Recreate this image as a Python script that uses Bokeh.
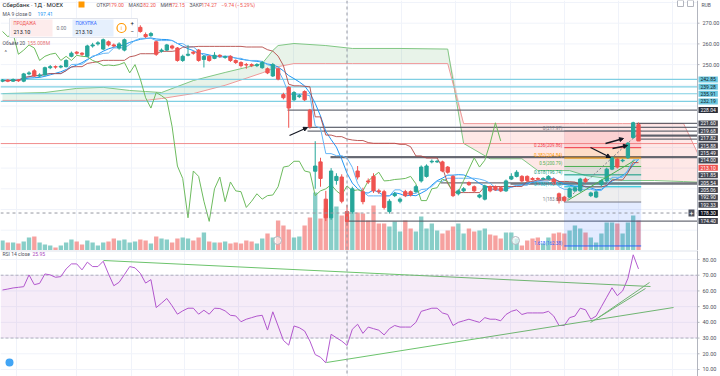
import numpy as np
import pandas as pd
from bokeh.plotting import figure
from bokeh.models import (Range1d, Label, Span, BoxAnnotation, Arrow, NormalHead)
from bokeh.layouts import column
from bokeh.embed import file_html
from bokeh.resources import INLINE

# ---------------- data ----------------
opens = [242.0, 242.5, 242.0, 242.6, 242.0, 245.5, 247.0, 244.5, 245.0, 248.5,
         249.0, 248.8, 249.0, 254.0, 256.0, 255.5, 254.0, 259.0, 260.0, 257.5,
         261.0, 259.5, 258.0, 257.0, 264.5, 264.5, 268.0, 264.5, 264.0, 261.0,
         256.5, 257.0, 259.0, 258.0, 252.0, 254.5, 256.0, 257.0, 252.5, 254.0,
         253.0, 254.5, 253.5, 254.0, 252.0, 251.0, 250.0, 250.0, 249.5, 248.5,
         248.0, 244.5, 248.0, 235.5, 239.0, 233.0, 234.5, 237.0, 228.0, 198.5,
         203.0, 185.0, 176.0, 194.0, 195.7, 179.0, 179.0, 198.6, 188.6, 193.8,
         196.0, 189.0, 188.6, 179.0, 186.7, 184.0, 188.6, 188.6, 188.6, 193.8,
         196.0, 203.0, 203.0, 203.0, 200.5, 196.0, 187.6, 189.0, 193.0, 191.0,
         186.0, 185.0, 191.0, 191.0, 190.5, 189.0, 194.7, 196.0, 196.0, 196.0,
         195.0, 195.0, 194.7, 194.7, 194.7, 187.6, 186.0, 186.0, 189.0, 189.0,
         194.7, 186.7, 186.0, 192.0, 193.8, 199.5, 204.3, 203.5, 205.0, 214.8,
         221.0]
closes = [242.5, 242.0, 242.8, 242.2, 245.5, 246.0, 244.5, 245.0, 248.5, 249.0,
          248.8, 249.2, 252.0, 255.5, 255.5, 255.0, 259.0, 259.5, 260.5, 262.0,
          259.5, 259.0, 260.0, 262.0, 265.0, 266.0, 266.0, 263.5, 265.0, 255.0,
          257.0, 259.5, 258.0, 252.0, 254.0, 255.0, 255.5, 252.0, 254.0, 252.0,
          254.5, 254.0, 253.8, 252.0, 251.0, 249.5, 249.8, 249.5, 250.0, 251.0,
          246.0, 250.0, 243.0, 234.0, 229.0, 236.5, 235.0, 233.0, 220.0, 201.0,
          195.0, 176.0, 198.6, 196.0, 184.0, 174.27, 190.0, 195.7, 183.8, 193.3,
          189.0, 188.6, 181.0, 184.0, 187.6, 185.0, 186.7, 187.0, 191.0, 200.5,
          201.0, 203.3, 203.3, 198.6, 198.0, 186.7, 189.0, 190.0, 192.0, 189.0,
          187.0, 191.4, 189.0, 189.5, 189.0, 193.8, 196.0, 198.0, 193.8, 194.0,
          194.5, 194.7, 195.0, 196.0, 192.4, 184.3, 184.3, 190.0, 190.5, 194.7,
          193.5, 188.0, 188.5, 194.0, 199.5, 205.0, 200.5, 203.8, 212.0, 221.9,
          213.10]
highs = [243.0, 243.0, 243.3, 243.0, 246.0, 246.8, 247.8, 245.8, 249.0, 249.8,
         249.6, 249.8, 252.6, 256.3, 256.5, 256.0, 259.6, 260.5, 261.3, 262.6,
         261.6, 260.2, 260.8, 262.6, 266.0, 267.0, 269.0, 265.5, 265.8, 261.6,
         257.8, 260.0, 259.6, 258.5, 254.8, 259.5, 256.6, 257.5, 254.6, 254.6,
         256.0, 255.0, 254.4, 254.5, 252.5, 251.6, 250.8, 250.6, 250.7, 251.8,
         248.6, 250.8, 248.5, 236.4, 239.6, 237.2, 235.8, 237.6, 228.6, 213.0,
         205.0, 189.0, 200.0, 197.5, 197.0, 182.2, 191.0, 201.0, 190.5, 195.0,
         197.5, 190.0, 189.5, 185.0, 188.5, 185.8, 189.5, 189.2, 191.8, 201.3,
         201.8, 204.2, 204.0, 203.6, 201.0, 196.6, 189.8, 190.8, 193.6, 191.6,
         187.6, 192.0, 191.6, 191.6, 191.0, 194.5, 197.5, 199.0, 196.6, 196.5,
         195.6, 195.5, 195.6, 196.6, 195.3, 188.2, 186.6, 190.6, 191.2, 195.3,
         195.4, 188.6, 189.2, 194.6, 200.2, 205.6, 205.0, 204.5, 212.6, 222.4,
         222.0]
lows = [241.5, 241.5, 241.6, 241.6, 241.5, 244.8, 244.0, 243.8, 244.6, 247.8,
        248.0, 248.2, 248.6, 253.5, 254.8, 254.2, 253.5, 258.2, 259.2, 257.0,
        258.8, 258.3, 257.2, 256.4, 263.8, 264.0, 265.4, 262.8, 263.4, 254.2,
        255.8, 256.5, 257.3, 251.4, 251.3, 254.0, 254.8, 251.4, 248.6, 251.4,
        252.6, 253.3, 252.8, 251.3, 250.3, 248.6, 248.0, 248.8, 248.8, 248.0,
        245.4, 244.0, 242.4, 233.2, 219.5, 232.4, 233.8, 232.4, 219.0, 190.0,
        191.0, 174.4, 175.0, 192.0, 183.0, 172.15, 178.0, 194.5, 182.5, 192.3,
        188.0, 187.5, 180.0, 178.0, 186.0, 183.0, 186.0, 186.3, 188.0, 193.0,
        195.4, 202.3, 202.5, 198.0, 197.3, 186.0, 186.8, 188.3, 191.4, 188.4,
        185.4, 184.4, 188.3, 189.0, 188.4, 188.5, 194.2, 195.5, 193.2, 193.4,
        194.0, 194.2, 194.2, 194.2, 191.8, 182.9, 183.6, 185.5, 188.4, 188.5,
        192.8, 186.0, 185.5, 191.3, 193.2, 199.0, 199.8, 202.8, 204.4, 214.2,
        213.1]
volumes_m = [80, 64, 64, 56, 72, 104, 112, 64, 48, 40,
             24, 40, 64, 88, 72, 48, 80, 64, 40, 64,
             72, 96, 80, 88, 64, 72, 88, 80, 56, 112,
             96, 88, 64, 96, 104, 96, 80, 104, 144, 72,
             64, 64, 72, 56, 64, 56, 80, 72, 56, 96,
             136, 104, 240, 200, 168, 104, 112, 200, 264, 464,
             256, 336, 336, 352, 280, 272, 320, 304, 296, 240,
             360, 216, 216, 192, 232, 152, 240, 176, 152, 272,
             176, 216, 160, 136, 160, 192, 216, 136, 176, 152,
             160, 176, 128, 120, 96, 144, 144, 96, 40, 80,
             96, 104, 56, 104, 136, 144, 136, 160, 200, 176,
             144, 104, 64, 136, 224, 224, 216, 136, 224, 280,
             240]
rsi14 = [60.6, 61.2, 61.9, 62.3, 62.7, 70.2, 64.0, 64.8, 70.8, 70.2,
         68.7, 69.1, 74.0, 77.2, 77.2, 73.4, 78.3, 75.5, 75.5, 78.9,
         70.8, 63.3, 65.5, 70.4, 75.5, 74.7, 71.2, 65.0, 67.2, 49.4,
         52.2, 55.2, 50.5, 45.2, 47.3, 49.0, 49.0, 45.2, 47.7, 45.2,
         49.0, 48.8, 47.3, 44.5, 44.1, 40.4, 42.0, 43.0, 44.0, 44.5,
         35.1, 46.7, 37.7, 28.5, 25.5, 37.7, 36.6, 34.5, 28.1, 19.5,
         17.8, 14.2, 32.4, 30.2, 28.1, 25.3, 35.6, 38.8, 33.0, 37.0,
         36.0, 35.0, 32.0, 36.0, 38.0, 37.0, 37.0, 37.0, 40.0, 47.0,
         48.0, 49.0, 49.0, 46.0, 45.0, 38.0, 40.0, 41.0, 42.0, 41.0,
         40.0, 43.0, 42.0, 42.0, 41.0, 45.0, 47.0, 48.0, 45.0, 46.0,
         46.0, 46.0, 46.0, 47.0, 44.0, 38.0, 38.0, 43.0, 44.0, 49.0,
         48.0, 42.0, 44.0, 50.0, 56.0, 62.0, 57.0, 60.0, 68.0, 83.0,
         74.0]
# Ichimoku leading spans (already displaced), read at shared candle positions
cloud_idx = [0, 8, 14, 19, 24, 27, 30, 36, 42, 49, 51, 52, 55, 61, 66, 75, 84, 87,
             92, 98, 101, 107, 110, 117, 123, 128.5, 131.2]
span_a = [236.0, 236.5, 238.5, 239.0, 237.5, 237.0, 236.5, 242.3, 246.2, 250.5,
          256.8, 259.2, 260.2, 259.2, 257.8, 257.8, 257.5, 211.9, 204.5, 204.5,
          198.8, 198.8, 196.4, 194.0, 194.0, 193.5, 193.2]
span_b = [232.7, 232.7, 232.7, 232.7, 232.7, 232.7, 233.6, 236.0, 240.0, 246.0,
          248.0, 249.0, 250.5, 250.5, 250.5, 250.5, 250.5, 221.5, 221.5, 221.5,
          221.5, 221.5, 221.5, 221.5, 221.5, 221.5, 207.0]
# horizontal levels drawn on the chart
blue_levels = [242.85, 239.28, 235.91, 232.19]
dark_levels = [228.04, 221.60, 219.68, 217.82, 215.88, 215.49, 214.00, 205.54, 205.06,
               192.90, 192.33, 174.40]
red_level = 211.85
last_price = 213.10
cross_price = 178.30
cross_idx = 65
fib_levels = [0, 0.236, 0.382, 0.5, 0.618, 0.786, 1, 1.618]
fib_hi, fib_lo = 217.97, 183.61
rsi_ticks = [10, 20, 30, 40, 50, 60, 70, 80]
price_grid = list(range(170, 290, 10))
price_ticks = [250, 260, 270]

# ---------------- geometry helpers (pixel -> data) ----------------
W = 720
AXX = 697            # pixel where the price scale begins
H1, H2 = 250, 126
PXC = 5.3
X0 = -0.38
X1 = X0 + AXX / PXC
XR = X0 + W / PXC
def ix(px): return X0 + px / PXC
def pm(py): return 270 - (py - 22.7) / 2.07
def pr(py): return 80 - (py - 259) / 1.5714

FONT = "Roboto"
AXC = "#b2b5be"
GRID = "#f0f3fa"
n = len(closes)
idx = np.arange(n)
o = np.array(opens); c = np.array(closes); h = np.array(highs); l = np.array(lows)
up = c >= o
UP, DN = "#26a69a", "#ef5350"
cols = np.where(up, UP, DN)

hi_s, lo_s, cl_s = pd.Series(h), pd.Series(l), pd.Series(c)
ma9 = cl_s.rolling(9, min_periods=1).mean()
tenkan = (hi_s.rolling(9, min_periods=1).max() + lo_s.rolling(9, min_periods=1).min()) / 2
kijun = (hi_s.rolling(26, min_periods=1).max() + lo_s.rolling(26, min_periods=1).min()) / 2

grid_px = [16, 76, 131, 184, 238, 293, 347, 401, 455, 510, 564, 618, 672]

xr = Range1d(X0, XR)

def base_fig(height, yr):
    f = figure(width=W, height=height, x_range=xr, y_range=yr, x_axis_location=None,
               y_axis_location=None, output_backend="svg", toolbar_location=None,
               min_border_left=0, min_border_right=0, min_border_top=0, min_border_bottom=0)
    f.outline_line_color = None
    f.xgrid.visible = False
    f.ygrid.visible = False
    for gp in grid_px:
        f.add_layout(Span(location=ix(gp), dimension="height", line_color=GRID, line_width=1, level="underlay"))
    return f

def finish_scale(f, ticks, ybot, ytop):
    # white scale area, scale line, tick marks and labels
    f.quad(left=X1, right=XR + 1, bottom=ybot, top=ytop, fill_color="white", line_color=None)
    f.segment(x0=X1, y0=ybot, x1=X1, y1=ytop, line_color=AXC, line_width=1)
    f.segment(x0=X1, y0=ticks, x1=X1 + 2 / PXC, y1=ticks, line_color=AXC, line_width=1)
    for t in ticks:
        f.add_layout(Label(x=X1, y=t, x_offset=5, text=f"{t:.2f}", text_baseline="middle",
                           text_font_size="5.5px", text_font=FONT, text_color="#50535e"))

ytop1, ybot1 = pm(0), pm(H1)
main = base_fig(H1, Range1d(ybot1, ytop1))
main.extra_y_ranges = {"vol": Range1d(0, 2000)}
main.segment(x0=X0, y0=price_grid, x1=X1, y1=price_grid, line_color=GRID, line_width=1)

# volume
main.vbar(x=idx, top=volumes_m, width=0.82, bottom=0, y_range_name="vol",
          fill_color=cols, line_color=None, fill_alpha=0.55)

# cloud
A = np.array(span_a); B = np.array(span_b); top = np.maximum(A, B)
main.varea(x=cloud_idx, y1=B, y2=top, fill_color="#43a047", fill_alpha=0.12)
main.varea(x=cloud_idx, y1=A, y2=top, fill_color="#f44336", fill_alpha=0.12)
main.line(cloud_idx, span_a, line_color="#81c784", line_width=1)
main.line(cloud_idx, span_b, line_color="#ef9a9a", line_width=1)

# horizontal drawn levels
for lv in blue_levels:
    main.segment(x0=X0, y0=lv, x1=X1, y1=lv, line_color="#7fcfe3", line_width=1.2)
dark_start = {228.04: 287, 221.60: 636, 219.68: 307, 217.82: 307, 215.88: 636, 215.49: 636,
              214.00: 636, 205.54: 330, 205.06: 330, 192.90: 440, 192.33: 510, 174.40: 345}
for lv in dark_levels:
    main.segment(x0=ix(dark_start[lv]), y0=lv, x1=X1, y1=lv, line_color="#50535e", line_width=1.3, line_alpha=0.85)
main.segment(x0=X0, y0=red_level, x1=X1, y1=red_level, line_color="#f08c8c", line_width=1)

# fibonacci retracement
fib_cols = ["#787b86", "#f23645", "#ff9800", "#4caf50", "#089981", "#00bcd4", "#787b86", "#2962ff"]
fx0, fx1 = 106, 120.5
fprice = [fib_hi - f * (fib_hi - fib_lo) for f in fib_levels]
for k in range(1, len(fib_levels)):
    main.quad(left=fx0, right=fx1, top=fprice[k - 1], bottom=fprice[k],
              fill_color=fib_cols[k], fill_alpha=0.13, line_color=None)
for k, f in enumerate(fib_levels):
    main.segment(x0=fx0, y0=fprice[k], x1=fx1, y1=fprice[k], line_color=fib_cols[k], line_width=1)
    main.add_layout(Label(x=fx0, y=fprice[k], x_offset=-2, text=f"{f:g}({fprice[k]:.2f})",
                          text_align="right", text_baseline="bottom", text_font_size="4.5px",
                          text_font=FONT, text_color=fib_cols[k]))
main.segment(x0=fx0, y0=fib_lo, x1=fx1, y1=fib_hi, line_color="#787b86", line_dash="2 2", line_width=1)

# indicator lines
main.line(idx, ma9, line_color="#2196f3", line_width=1)
main.line(idx, tenkan, line_color="#64b5f6", line_width=1)
main.line(idx, kijun, line_color="#b0413e", line_width=1, line_alpha=0.85)
main.line(idx[:-26], c[26:], line_color="#6dbb5e", line_width=1)

# candles
main.segment(x0=idx, y0=h, x1=idx, y1=l, line_color=cols, line_width=1)
main.vbar(x=idx, top=np.maximum(o, c), bottom=np.minimum(o, c), width=0.62,
          fill_color=cols, line_color=cols)

# green support line & arrows
main.segment(x0=ix(567), y0=pm(200), x1=ix(634), y1=pm(160), line_color="#4caf50", line_width=1)
for (a, b, cc, d) in [(289, 135, 307, 127), (590, 147, 610, 157), (605, 143, 623, 138), (612, 148, 627, 145)]:
    main.add_layout(Arrow(end=NormalHead(size=4, fill_color="#131722", line_color="#131722"),
                          x_start=ix(a), y_start=pm(b), x_end=ix(cc), y_end=pm(d),
                          line_color="#131722", line_width=1.3))

# crosshair
main.add_layout(Span(location=cross_idx, dimension="height", line_color="#9598a1", line_dash="3 3", line_width=1))
main.segment(x0=X0, y0=cross_price, x1=X1, y1=cross_price, line_color="#9598a1", line_dash="3 3", line_width=1)

# price scale
finish_scale(main, price_ticks, ybot1, ytop1)

# price tags on the scale (stacked to avoid overlap)
def tag(fig, ypos, text, bg, fg="white"):
    fig.add_layout(Label(x=X1, y=ypos, x_offset=1, text=text, text_align="left", text_baseline="middle",
                         text_font_size="5px", text_font=FONT, text_color=fg, background_fill_color=bg,
                         padding=(2, 1)))
for lv in blue_levels:
    tag(main, lv, f"{lv:.2f}", "#6cc8e0", "#131722")
stack = sorted(dark_levels[1:] + [last_price, red_level], reverse=True)
prev = None
for lv in stack:
    ypos = lv if prev is None else min(lv, prev - 7.4 / 2.07)
    prev = ypos
    tag(main, ypos, f"{lv:.2f}", DN if lv == last_price else "#434651")
tag(main, 228.04, "228.04", "#2a2e39")
tag(main, cross_price, f"{cross_price:.2f}", "#131722")
main.add_layout(Label(x=ix(688), y=cross_price, text="+", text_align="left", text_baseline="middle",
                      text_font_size="7px", text_font=FONT, text_color="white",
                      background_fill_color="#50535e", padding=1))
main.add_layout(Label(x=X1, y=pm(4), x_offset=4, text="RUB", text_font_size="5px", text_font=FONT,
                      text_color="#50535e", text_baseline="middle"))
main.scatter(x=[ix(680), ix(690)], y=[pm(3), pm(3)], size=6, marker="square",
             fill_color="white", line_color="#b2b5be")

# header texts
def lab(fig, px, y, text, size="5px", color="#131722", **kw):
    fig.add_layout(Label(x=ix(px), y=y, text=text, text_font_size=size, text_font=FONT,
                         text_color=color, text_baseline="middle", **kw))
lab(main, 2, pm(4), "Сбербанк · 1Д · MOEX", size="6px")
main.scatter(x=[ix(81)], y=[pm(4)], size=6, marker="square", fill_color="#ff9800", line_color=None)
for px, t, colr in [(96, "ОТКР", "#50535e"), (108, "179.00", DN), (128, "МАКС", "#50535e"),
                    (140, "182.20", DN), (160, "МИН", "#50535e"), (169, "172.15", DN),
                    (189, "ЗАКР", "#50535e"), (201, "174.27", DN), (221, "−9.74 (−5.29%)", DN)]:
    lab(main, px, pm(4), t, color=colr)
lab(main, 2, pm(13), "MA 9 close 0", color="#50535e")
lab(main, 37, pm(13), "197.41", color="#2196f3")
main.quad(left=ix(9), right=ix(137), top=pm(18), bottom=pm(37), fill_color="white",
          line_color="#e0e3eb", line_width=1)
main.quad(left=ix(10), right=ix(52), top=pm(19), bottom=pm(36), fill_color="#fdecec", line_color=None)
main.quad(left=ix(72), right=ix(113), top=pm(19), bottom=pm(36), fill_color="#e6f0fd", line_color=None)
lab(main, 13, pm(23), "ПРОДАЖА", size="4.5px", color=DN)
lab(main, 13, pm(31), "213.10", size="5.5px", color="#131722")
lab(main, 56, pm(27.5), "0.00", size="5px", color="#787b86")
lab(main, 75, pm(23), "ПОКУПКА", size="4.5px", color="#2962ff")
lab(main, 75, pm(31), "213.10", size="5.5px", color="#131722")
main.scatter(x=[ix(121)], y=[pm(27.5)], size=9, marker="circle", fill_color="white", line_color="#ff9800", line_width=1.2)
lab(main, 120.3, pm(27.5), "i", size="5px", color="#ff9800")
lab(main, 130, pm(22.5), "+", size="6px", color="#131722")
lab(main, 130, pm(31), "−", size="6px", color="#131722")
lab(main, 2, pm(42), "Объём 20", color="#50535e")
lab(main, 27, pm(42), "155.008M", color="#e57373")
lab(main, 4, pm(51), "^", size="6px", color="#50535e")
main.scatter(x=[ix(277), ix(515)], y=[pm(240), pm(240)], size=8, marker="circle",
             fill_color="white", fill_alpha=0.6, line_color="#b2b5be")

# ---------------- RSI pane ----------------
ytop2, ybot2 = pr(250), pr(376)
rsi = base_fig(H2, Range1d(ybot2, ytop2))
rsi.segment(x0=X0, y0=rsi_ticks, x1=X1, y1=rsi_ticks, line_color=GRID, line_width=1)
rsi.add_layout(BoxAnnotation(left=X0, right=X1, bottom=30, top=70, fill_color="#9c27b0",
                             fill_alpha=0.09, line_color=None))
rsi.segment(x0=X0, y0=[30, 70], x1=X1, y1=[30, 70], line_color="#b2b5be", line_dash="3 2", line_width=1)
rsi.line(idx, rsi14, line_color="#b45bd0", line_width=1)
for (a, b, cc, d) in [(103, 260, 650, 286), (326, 362, 673, 307), (590, 322, 645, 288), (598, 317, 649, 282)]:
    rsi.segment(x0=ix(a), y0=pr(b), x1=ix(cc), y1=pr(d), line_color="#6cc36c", line_width=1)
rsi.add_layout(Span(location=cross_idx, dimension="height", line_color="#9598a1", line_dash="3 3", line_width=1))
rsi.segment(x0=X0, y0=ytop2, x1=X1, y1=ytop2, line_color="#e0e3eb", line_width=2)
finish_scale(rsi, rsi_ticks, ybot2, ytop2)
rsi.scatter(x=[ix(9)], y=[pr(362)], size=8, marker="circle", fill_color="#42a5f5", line_color=None)
rsi.add_layout(Label(x=ix(2), y=pr(253.5), text="RSI 14 close", text_font_size="5px", text_font=FONT,
                     text_color="#50535e", text_baseline="middle"))
rsi.add_layout(Label(x=ix(32), y=pr(253.5), text="25.95", text_font_size="5px", text_font=FONT,
                     text_color="#ab47bc", text_baseline="middle"))

layout = column(main, rsi, spacing=0)
open("out.html", "w").write(file_html(layout, INLINE))
